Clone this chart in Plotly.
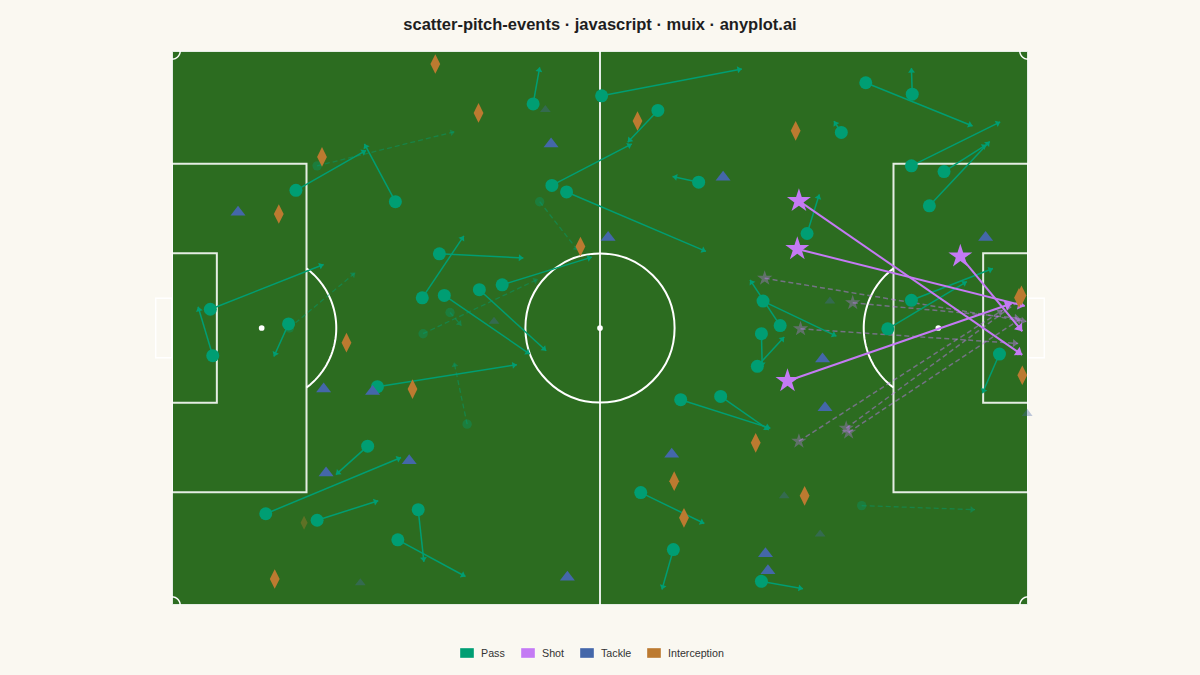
import numpy as np
import plotly.graph_objects as go

# ---------------- data (metres, origin bottom-left, pitch 105 x 68) ----------------
CATEGORIES = ["Pass", "Shot", "Tackle", "Interception"]

pass_x = [15.2, 27.4, 4.7, 14.3, 32.8, 30.7, 33.4, 37.7, 40.5, 25.2,
          5.0, 24.0, 11.5, 17.8, 30.2, 27.7, 44.3, 52.7, 59.6, 46.6,
          48.4, 64.6, 62.4, 67.3, 57.5, 61.5, 85.1, 90.8, 82.1, 90.7,
          94.7, 92.9, 77.9, 90.7, 87.8, 72.5, 74.6, 72.3, 71.8, 101.5, 72.3,
          17.8, 14.4, 34.1, 30.8, 36.2, 45.1, 84.6]
pass_y = [50.9, 49.5, 36.3, 34.5, 43.1, 37.7, 38.0, 38.7, 39.3, 26.8,
          30.6, 19.5, 11.2, 10.4, 11.7, 8.0, 61.5, 62.5, 60.7, 51.5,
          50.7, 51.9, 25.2, 25.6, 13.8, 6.8, 64.1, 62.7, 58.0, 53.9,
          53.2, 49.0, 45.6, 37.4, 33.9, 37.3, 34.3, 33.3, 29.3, 30.8, 2.9,
          53.9, 34.0, 35.9, 33.3, 22.2, 49.5, 12.2]
pass_end_x = [23.8, 23.6, 18.6, 12.5, 43.1, 35.8, 43.9, 45.9, 51.5, 42.3,
              3.2, 20.1, 28.1, 25.3, 30.9, 36.0, 45.1, 69.9, 55.9, 56.4,
              65.5, 61.4, 73.4, 73.2, 65.3, 60.1, 98.2, 90.7, 81.2, 101.6,
              99.9, 100.3, 79.4, 100.7, 97.5, 81.5, 70.9, 72.4, 75.1, 99.4, 77.4,
              34.7, 22.5, 35.5, 44.9, 34.6, 49.8, 98.5]
pass_end_y = [55.8, 56.6, 41.8, 30.5, 42.6, 45.3, 30.8, 31.2, 42.7, 29.5,
              36.6, 16.0, 18.1, 12.8, 5.3, 3.5, 66.0, 65.8, 56.8, 56.6,
              43.4, 52.6, 21.7, 21.5, 10.0, 1.9, 58.8, 65.9, 59.4, 59.3,
              56.5, 56.9, 50.4, 41.3, 39.7, 33.0, 39.9, 29.2, 32.9, 26.0, 2.0,
              58.1, 40.8, 34.3, 40.0, 29.8, 43.5, 11.7]
pass_ok = [1] * 41 + [0] * 7

shot_x = [76.9, 76.7, 96.7, 75.5, 72.7, 83.5, 77.1, 76.9, 82.7, 83.0]
shot_y = [49.6, 43.7, 42.8, 27.5, 40.1, 37.1, 33.9, 20.1, 21.7, 21.2]
shot_end_x = [104.3, 104.6, 104.3, 103.0, 104.8, 104.0, 103.8, 101.9, 104.4, 104.2]
shot_end_y = [30.7, 36.7, 33.6, 37.0, 34.8, 35.2, 32.1, 36.2, 37.7, 35.2]
shot_ok = [1, 1, 1, 1, 0, 0, 0, 0, 0, 0]

tackle_x = [8.1, 18.6, 24.6, 18.9, 29.1, 46.5, 67.6, 53.5, 61.3, 48.5, 99.8,
            79.8, 80.1, 72.8, 73.1, 39.5, 23.1, 45.8, 80.7, 104.9, 75.1, 79.5]
tackle_y = [48.2, 26.5, 26.2, 16.2, 17.7, 56.6, 52.5, 45.1, 18.5, 3.4, 45.1,
            30.2, 24.2, 6.3, 4.2, 34.8, 2.7, 60.8, 37.3, 23.5, 13.4, 8.7]
tackle_ok = [1] * 15 + [0] * 7

int_x = [32.3, 18.4, 13.1, 21.4, 29.5, 12.6, 37.6, 57.1, 50.1, 61.6, 62.8,
         76.5, 104.2, 103.9, 104.3, 71.6, 77.6, 16.2]
int_y = [66.4, 55.0, 48.0, 32.2, 26.5, 3.2, 60.4, 59.4, 44.0, 15.2, 10.7,
         58.2, 38.0, 37.7, 28.2, 19.9, 13.4, 10.1]
int_ok = [1] * 17 + [0]

# ---------------- styling ----------------
BG = "#FAF8F1"
PITCH = "#2C6C20"
LINE = "rgba(255,255,255,0.88)"
COLORS = {"Pass": "#009E73", "Shot": "#C47AF4", "Tackle": "#4467A9", "Interception": "#BC7A30"}
FADE = 0.35
L, R, T, B = 172, 172, 51, 70
W, H = 1200, 675
PW, PH = W - L - R, H - T - B
PL, PWID = 105.0, 68.0
PX_PER_M = PW / PL


def rgba(hex_color, a):
    h = hex_color.lstrip("#")
    r, g, b = int(h[0:2], 16), int(h[2:4], 16), int(h[4:6], 16)
    return f"rgba({r},{g},{b},{a})"


def px_x(px):
    return (px - L) / PW


def px_y(py):
    return (H - B - py) / PH


fig = go.Figure()

# ---------------- pitch ----------------
shapes = []
shapes.append(dict(type="rect", xref="x", yref="y", x0=0, y0=0, x1=PL, y1=PWID,
                   fillcolor=PITCH, line=dict(width=0), layer="below"))
lw = 2


def rect(x0, y0, x1, y1):
    return dict(type="rect", xref="x", yref="y", x0=x0, y0=y0, x1=x1, y1=y1,
                line=dict(color=LINE, width=lw), layer="below")


shapes.append(rect(0, 0, PL, PWID))
shapes.append(dict(type="line", xref="x", yref="y", x0=PL / 2, y0=0, x1=PL / 2, y1=PWID,
                   line=dict(color=LINE, width=lw), layer="below"))
shapes.append(dict(type="circle", xref="x", yref="y", x0=PL / 2 - 9.15, y0=PWID / 2 - 9.15,
                   x1=PL / 2 + 9.15, y1=PWID / 2 + 9.15, line=dict(color="white", width=lw), layer="below"))
for cx in (PL / 2, 11, PL - 11):
    shapes.append(dict(type="circle", xref="x", yref="y", x0=cx - 0.35, y0=PWID / 2 - 0.35,
                       x1=cx + 0.35, y1=PWID / 2 + 0.35, fillcolor="white", line=dict(width=0), layer="below"))
pa_w, ga_w = 40.32, 18.32
shapes.append(rect(0, PWID / 2 - pa_w / 2, 16.5, PWID / 2 + pa_w / 2))
shapes.append(rect(PL - 16.5, PWID / 2 - pa_w / 2, PL, PWID / 2 + pa_w / 2))
shapes.append(rect(0, PWID / 2 - ga_w / 2, 5.5, PWID / 2 + ga_w / 2))
shapes.append(rect(PL - 5.5, PWID / 2 - ga_w / 2, PL, PWID / 2 + ga_w / 2))


def arc_path(cx, cy, r, a0, a1, n=60):
    t = np.linspace(a0, a1, n)
    xs, ys = cx + r * np.cos(t), cy + r * np.sin(t)
    return "M " + " L ".join(f"{x:.3f},{y:.3f}" for x, y in zip(xs, ys))


ang = np.arccos(5.5 / 9.15)
shapes.append(dict(type="path", xref="x", yref="y", path=arc_path(11, PWID / 2, 9.15, -ang, ang),
                   line=dict(color="white", width=lw), layer="below"))
shapes.append(dict(type="path", xref="x", yref="y", path=arc_path(PL - 11, PWID / 2, 9.15, np.pi - ang, np.pi + ang),
                   line=dict(color="white", width=lw), layer="below"))
for (cx, cy, a0) in [(0, 0, 0), (PL, 0, np.pi / 2), (PL, PWID, np.pi), (0, PWID, 1.5 * np.pi)]:
    shapes.append(dict(type="path", xref="x", yref="y", path=arc_path(cx, cy, 1.0, a0, a0 + np.pi / 2, 20),
                       line=dict(color="white", width=1.5), layer="below"))
for gx0, gx1 in [(-2.0, 0.0), (PL, PL + 2.0)]:
    shapes.append(dict(type="rect", xref="paper", yref="paper",
                       x0=gx0 / PL, x1=gx1 / PL, y0=(PWID / 2 - 3.66) / PWID, y1=(PWID / 2 + 3.66) / PWID,
                       line=dict(color="white", width=1.5), layer="below"))

# ---------------- events ----------------
annotations = []


def add_lines(xs, ys, xe, ye, ok, color, width, head, success):
    X, Y = [], []
    HX, HY, HA = [], [], []
    back = (head / 2.0) / PX_PER_M  # shift so that the triangle tip sits on the end point
    for a, b, c, d, m in zip(xs, ys, xe, ye, ok):
        if bool(m) == success:
            X += [a, c, None]
            Y += [b, d, None]
            dx, dy = c - a, d - b
            n = float(np.hypot(dx, dy))
            HX.append(c - back * dx / n)
            HY.append(d - back * dy / n)
            HA.append(float(np.degrees(np.arctan2(dx, dy))))
    col = color if success else rgba(color, FADE + 0.12)
    fig.add_trace(go.Scatter(
        x=X, y=Y, mode="lines", hoverinfo="skip", cliponaxis=False,
        line=dict(color=col, width=width, dash="solid" if success else "5px,3px")))
    fig.add_trace(go.Scatter(
        x=HX, y=HY, mode="markers", hoverinfo="skip", cliponaxis=False,
        marker=dict(symbol="triangle-up", size=head, angle=HA, color=col, line=dict(width=0))))


def add_markers(xs, ys, ok, cat, symbol, size, success):
    sx = [x for x, m in zip(xs, ok) if bool(m) == success]
    sy = [y for y, m in zip(ys, ok) if bool(m) == success]
    col = COLORS[cat] if success else rgba(COLORS[cat], FADE)
    fig.add_trace(go.Scatter(
        x=sx, y=sy, mode="markers", name=cat, cliponaxis=False, hoverinfo="skip",
        marker=dict(symbol=symbol, size=size if success else size * 0.72, color=col, line=dict(width=0))))


add_lines(pass_x, pass_y, pass_end_x, pass_end_y, pass_ok, COLORS["Pass"], 1.3, 6, False)
add_lines(shot_x, shot_y, shot_end_x, shot_end_y, shot_ok, COLORS["Shot"], 1.5, 7, False)
add_lines(pass_x, pass_y, pass_end_x, pass_end_y, pass_ok, COLORS["Pass"], 1.5, 6, True)
add_lines(shot_x, shot_y, shot_end_x, shot_end_y, shot_ok, COLORS["Shot"], 2.0, 9, True)

add_markers(pass_x, pass_y, pass_ok, "Pass", "circle", 13, False)
add_markers(tackle_x, tackle_y, tackle_ok, "Tackle", "triangle-up", 13, False)
add_markers(int_x, int_y, int_ok, "Interception", "diamond-tall", 14, False)
add_markers(shot_x, shot_y, shot_ok, "Shot", "star", 16, False)
add_markers(pass_x, pass_y, pass_ok, "Pass", "circle", 13, True)
add_markers(tackle_x, tackle_y, tackle_ok, "Tackle", "triangle-up", 13, True)
add_markers(int_x, int_y, int_ok, "Interception", "diamond-tall", 14, True)
add_markers(shot_x, shot_y, shot_ok, "Shot", "star", 18, True)

# ---------------- legend (manual, centred at bottom) ----------------
legend_left_px = [460, 521, 580, 647]
for cat, lx in zip(CATEGORIES, legend_left_px):
    shapes.append(dict(type="rect", xref="paper", yref="paper",
                       x0=px_x(lx), x1=px_x(lx + 14), y0=px_y(658), y1=px_y(648),
                       fillcolor=COLORS[cat], line=dict(width=0.6, color="rgba(255,255,255,0.6)")))
    annotations.append(dict(x=px_x(lx + 19), y=px_y(653), xref="paper", yref="paper", text=cat,
                            showarrow=False, xanchor="left", yanchor="middle",
                            font=dict(size=10.7, color="#333333", family="Liberation Sans, Arial, sans-serif")))

fig.update_layout(
    width=W, height=H, autosize=False,
    paper_bgcolor=BG, plot_bgcolor=BG,
    margin=dict(l=L, r=R, t=T, b=B, pad=0),
    xaxis=dict(range=[0, PL], visible=False, fixedrange=True),
    yaxis=dict(range=[0, PWID], visible=False, fixedrange=True),
    showlegend=False,
    shapes=shapes,
    annotations=annotations,
    title=dict(text="<b>scatter-pitch-events · javascript · muix · anyplot.ai</b>",
               x=0.5, xref="container", xanchor="center",
               y=1 - 24 / H, yref="container", yanchor="middle",
               font=dict(size=16.5, color="#1E1E1E", family="Liberation Sans, Arial, sans-serif")),
    font=dict(family="Liberation Sans, Arial, sans-serif"),
)

fig.write_html("out.html", config={"displayModeBar": False},
               post_script="document.body.style.margin='0';document.body.style.overflow='hidden';")
